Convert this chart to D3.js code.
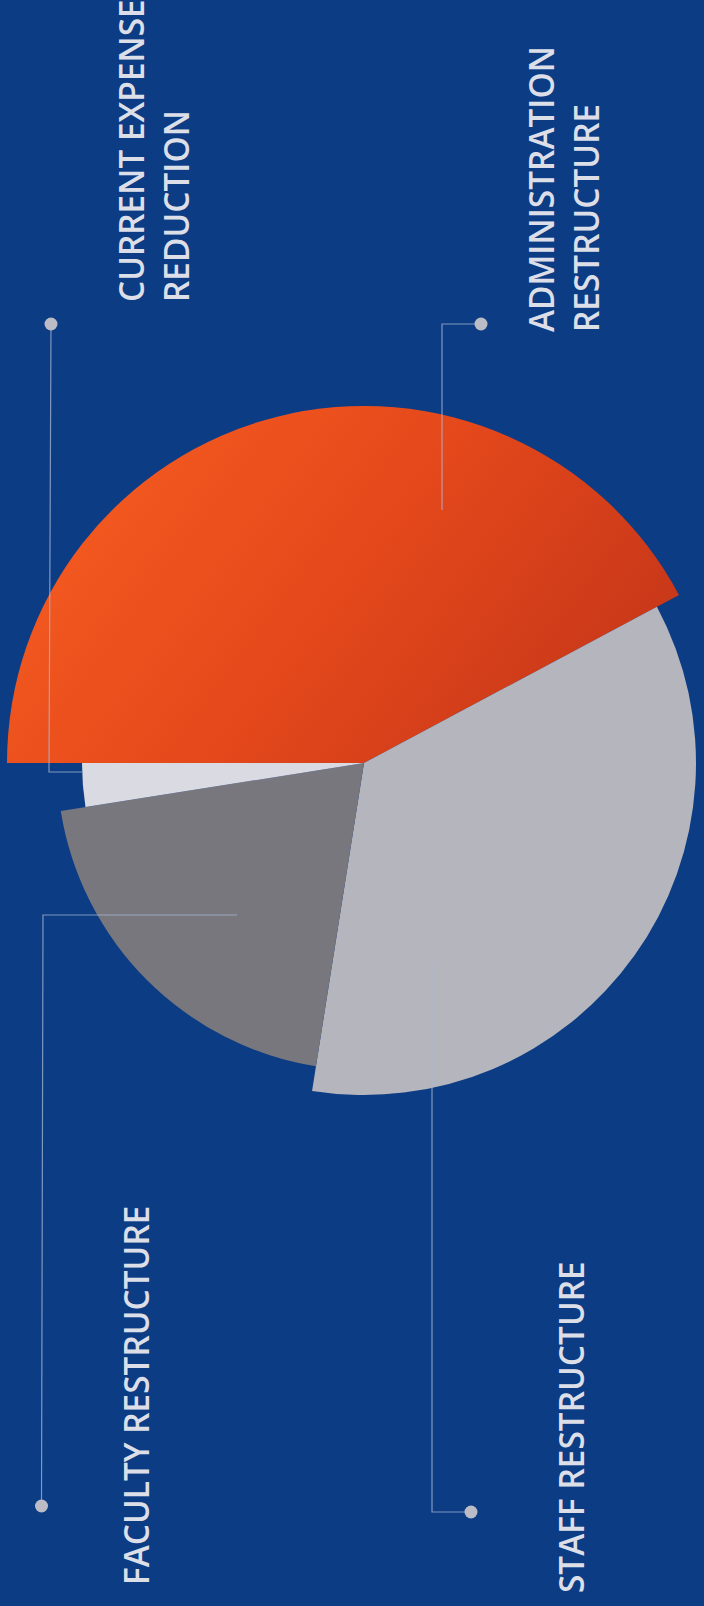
<!DOCTYPE html>
<html>
<head>
<meta charset="utf-8">
<script src="https://cdn.jsdelivr.net/npm/d3@7"></script>
<style>
  html, body { margin: 0; padding: 0; background: #0b3c84; }
  svg { display: block; }
</style>
</head>
<body>
<svg id="chart" width="704" height="1606"></svg>
<script>
// Budget savings by source (share of total, %)
const categories = ["ADMINISTRATION RESTRUCTURE", "STAFF RESTRUCTURE", "FACULTY RESTRUCTURE", "CURRENT EXPENSE REDUCTION"];
const shares = [42.2, 35.3, 20.0, 2.5];
const labelLines = [
  ["ADMINISTRATION", "RESTRUCTURE"],
  ["STAFF RESTRUCTURE"],
  ["FACULTY RESTRUCTURE"],
  ["CURRENT EXPENSE", "REDUCTION"]
];

// Layout of the page (the whole graphic reads turned a quarter turn)
const W = 704, H = 1606;
const center = { x: 364, y: 763 };
const fills = ["url(#orangeGrad)", "#b5b5bd", "#78777d", "#dadae2"];
const lineGap = 45.5;
const callouts = [
  { dot: [481, 324], path: [[481, 324], [442, 324], [442, 510]], text: [553.5, 332] },
  { dot: [471, 1512], path: [[471, 1512], [432, 1512], [432, 965]], text: [584, 1593] },
  { dot: [41.5, 1506], path: [[41.5, 1506], [43, 915], [237, 915]], text: [148.5, 1585] },
  { dot: [51, 324], path: [[51, 324], [49, 772], [82, 772]], text: [143.5, 302] }
];

const svg = d3.select("#chart");

// Orange shading runs from the top-left rim toward the lower-right edge
const defs = svg.append("defs");
const grad = defs.append("linearGradient")
  .attr("id", "orangeGrad")
  .attr("gradientUnits", "userSpaceOnUse")
  .attr("x1", -200).attr("y1", -360)
  .attr("x2", 250).attr("y2", -20);
grad.append("stop").attr("offset", 0).attr("stop-color", "#f2581f");
grad.append("stop").attr("offset", 0.45).attr("stop-color", "#e4481b");
grad.append("stop").attr("offset", 1).attr("stop-color", "#c53619");

svg.append("rect").attr("width", W).attr("height", H).attr("fill", "#0b3c84");

// Slices start at the left and run clockwise; each later slice is drawn a step smaller
const pie = d3.pie().sort(null).value(d => d)
  .startAngle(1.5 * Math.PI).endAngle(3.5 * Math.PI);
const radius = d3.scaleLinear().domain([0, shares.length - 1]).range([357, 282]);
const arc = d3.arc().innerRadius(0).outerRadius(d => radius(d.index));

const g = svg.append("g").attr("transform", `translate(${center.x},${center.y})`);
g.selectAll("path.slice")
  .data(pie(shares))
  .join("path")
  .attr("class", "slice")
  .attr("d", arc)
  .attr("fill", (d, i) => fills[i]);

// Leader lines and dots
const line = d3.line();
svg.append("g").selectAll("path")
  .data(callouts)
  .join("path")
  .attr("d", d => line(d.path))
  .attr("fill", "none")
  .attr("stroke", "#a9b7d6")
  .attr("stroke-opacity", 0.75)
  .attr("stroke-width", 1.2);

svg.append("g").selectAll("circle")
  .data(callouts)
  .join("circle")
  .attr("cx", d => d.dot[0])
  .attr("cy", d => d.dot[1])
  .attr("r", 6.5)
  .attr("fill", "#bcbcc6");

// Labels, turned to read upward
const labels = svg.append("g")
  .attr("font-family", "'Open Sans', sans-serif")
  .attr("font-size", 33.4)
  .attr("font-weight", 600)
  .attr("fill", "#dcdee8");

categories.forEach((name, i) => {
  const [bx, by] = callouts[i].text;
  labelLines[i].forEach((txt, j) => {
    labels.append("text")
      .attr("transform", `translate(${bx + j * lineGap},${by}) rotate(-90)`)
      .attr("text-anchor", "start")
      .text(txt);
  });
});
</script>
</body>
</html>
